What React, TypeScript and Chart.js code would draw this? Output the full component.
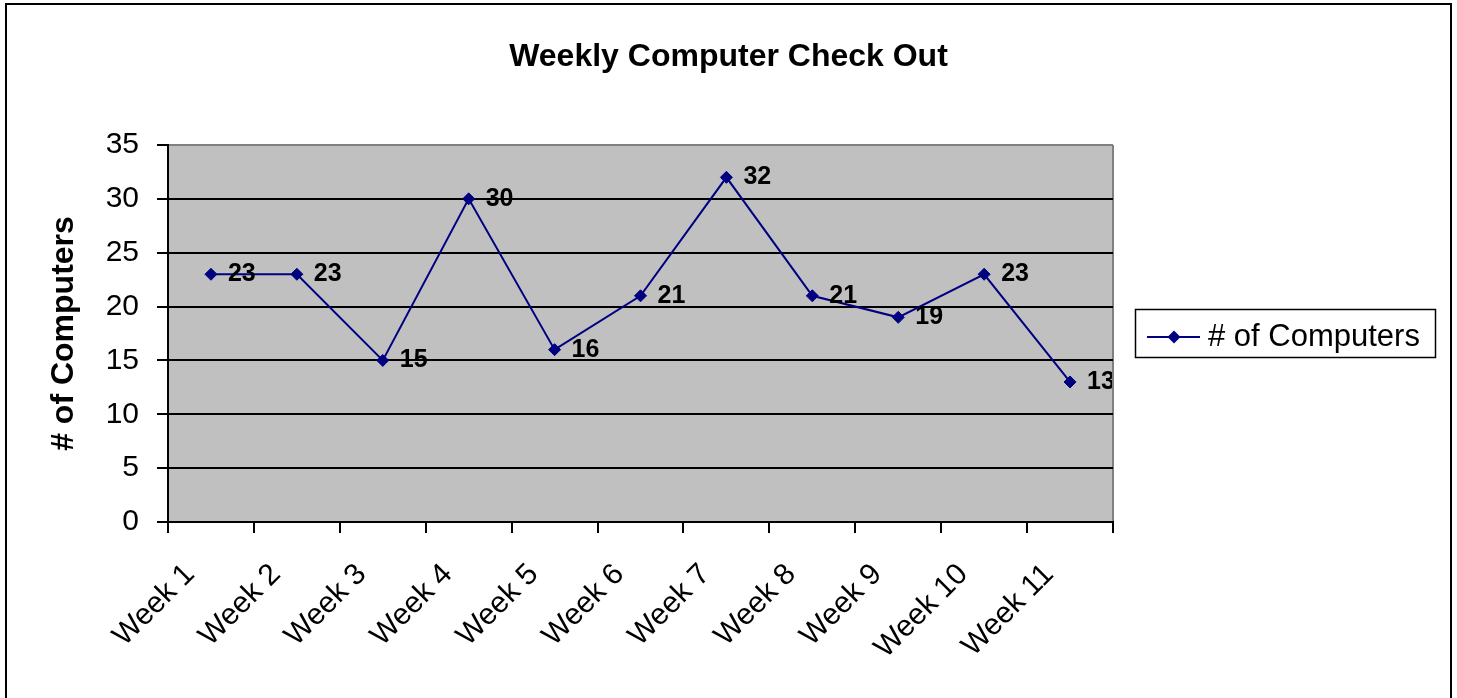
import React, { useEffect, useRef } from "react";
import { Chart, registerables } from "chart.js";

Chart.register(...registerables);

const chartTitle = "Weekly Computer Check Out";
const seriesName = "# of Computers";
const categories = ["Week 1", "Week 2", "Week 3", "Week 4", "Week 5", "Week 6", "Week 7", "Week 8", "Week 9", "Week 10", "Week 11"];
const computers = [23, 23, 15, 30, 16, 21, 32, 21, 19, 23, 13];
const yTicks = [0, 5, 10, 15, 20, 25, 30, 35];

const FONT = "'Liberation Sans', Arial, sans-serif";
const NAVY = "#000080";

const frame = {
  id: "frame",
  beforeDraw(chart: any) {
    const { ctx, chartArea: a } = chart;
    ctx.save();
    ctx.fillStyle = "#ffffff";
    ctx.fillRect(0, 0, chart.width, chart.height);
    ctx.strokeStyle = "#000";
    ctx.lineWidth = 2;
    ctx.strokeRect(6, 4, 1445, 720);
    ctx.fillStyle = "#C0C0C0";
    ctx.fillRect(a.left, a.top, a.right - a.left, a.bottom - a.top);
    ctx.strokeStyle = "#808080";
    ctx.lineWidth = 2;
    ctx.beginPath();
    ctx.moveTo(a.right, a.top);
    ctx.lineTo(a.right, a.bottom);
    ctx.stroke();
    ctx.restore();
  },
};

const valueLabels = {
  id: "valueLabels",
  afterDatasetsDraw(chart: any) {
    const { ctx, chartArea: a } = chart;
    const meta = chart.getDatasetMeta(0);
    const data = chart.data.datasets[0].data;
    ctx.save();
    ctx.beginPath();
    ctx.rect(a.left, a.top, a.right - a.left - 1, a.bottom - a.top);
    ctx.clip();
    ctx.font = `bold 25px ${FONT}`;
    ctx.fillStyle = "#000";
    ctx.textAlign = "left";
    ctx.textBaseline = "middle";
    meta.data.forEach((pt: any, i: number) => {
      ctx.fillText(String(data[i]), pt.x + 17, pt.y);
    });
    ctx.restore();
  },
};

const boxLegend = {
  id: "boxLegend",
  afterDraw(chart: any) {
    const { ctx } = chart;
    const ds = chart.data.datasets[0];
    ctx.save();
    ctx.strokeStyle = "#000";
    ctx.lineWidth = 1.5;
    ctx.strokeRect(1135.5, 309.5, 300, 48);
    ctx.strokeStyle = NAVY;
    ctx.lineWidth = 2;
    ctx.beginPath();
    ctx.moveTo(1147, 337);
    ctx.lineTo(1200, 337);
    ctx.stroke();
    ctx.fillStyle = NAVY;
    ctx.beginPath();
    ctx.moveTo(1174, 330.5);
    ctx.lineTo(1180.5, 337);
    ctx.lineTo(1174, 343.5);
    ctx.lineTo(1167.5, 337);
    ctx.closePath();
    ctx.fill();
    ctx.fillStyle = "#000";
    ctx.font = `31px ${FONT}`;
    ctx.textAlign = "left";
    ctx.textBaseline = "alphabetic";
    ctx.fillText(ds.label, 1208, 346);
    ctx.restore();
  },
};

export default function App() {
  const ref = useRef<HTMLCanvasElement | null>(null);

  useEffect(() => {
    if (!ref.current) return;
    const chart = new Chart(ref.current, {
      type: "line",
      data: {
        labels: categories,
        datasets: [
          {
            label: seriesName,
            data: computers,
            borderColor: NAVY,
            backgroundColor: NAVY,
            borderWidth: 2,
            pointStyle: "rectRot",
            pointRadius: 6,
            pointBorderWidth: 1,
            pointBackgroundColor: NAVY,
            pointBorderColor: NAVY,
            tension: 0,
            fill: false,
            yAxisID: "y",
          },
        ],
      },
      options: {
        responsive: true,
        maintainAspectRatio: false,
        animation: false,
        events: [],
        layout: { padding: 0 },
        plugins: {
          legend: { display: false },
          tooltip: { enabled: false },
          title: {
            display: true,
            text: chartTitle,
            color: "#000",
            font: { family: FONT, size: 32, weight: "bold", lineHeight: 1 },
            padding: { top: 41, bottom: 72 },
          },
        },
        scales: {
          x: {
            type: "category",
            offset: true,
            grid: {
              offset: true,
              drawOnChartArea: false,
              drawTicks: true,
              tickLength: 11,
              tickColor: "#000",
              color: "#000",
              lineWidth: 2,
            },
            border: { display: true, color: "#000", width: 2 },
            ticks: {
              color: "#000",
              font: { family: FONT, size: 30 },
              minRotation: 45,
              maxRotation: 45,
              autoSkip: false,
              padding: 24,
              labelOffset: -21,
            },
            afterFit: (s: any) => {
              s.height = 176;
            },
          },
          y: {
            position: "left",
            min: 0,
            max: 35,
            afterBuildTicks: (s: any) => {
              s.ticks = yTicks.map((v) => ({ value: v }));
            },
            grid: {
              color: (c: any) => (c.tick && c.tick.value === 35 ? "#808080" : "#000"),
              tickColor: "#000",
              lineWidth: 2,
              tickLength: 11,
            },
            border: { display: true, color: "#000", width: 2 },
            ticks: {
              color: "#000",
              font: { family: FONT, size: 30 },
              padding: 18,
            },
            title: {
              display: true,
              text: seriesName,
              color: "#000",
              font: { family: FONT, size: 32, weight: "bold", lineHeight: 1 },
              padding: { top: 48, bottom: 0 },
            },
            afterFit: (s: any) => {
              s.width = 168;
            },
          },
          legendSpace: {
            type: "linear",
            position: "right",
            display: true,
            grid: { display: false, drawTicks: false },
            border: { display: false },
            ticks: { display: false },
            afterFit: (s: any) => {
              s.width = 344;
            },
          },
        },
      },
      plugins: [frame, valueLabels, boxLegend],
    });
    return () => chart.destroy();
  }, []);

  return (
    <div style={{ position: "fixed", left: 0, top: 0, width: 1457, height: 698, background: "#fff" }}>
      <canvas ref={ref} />
    </div>
  );
}
